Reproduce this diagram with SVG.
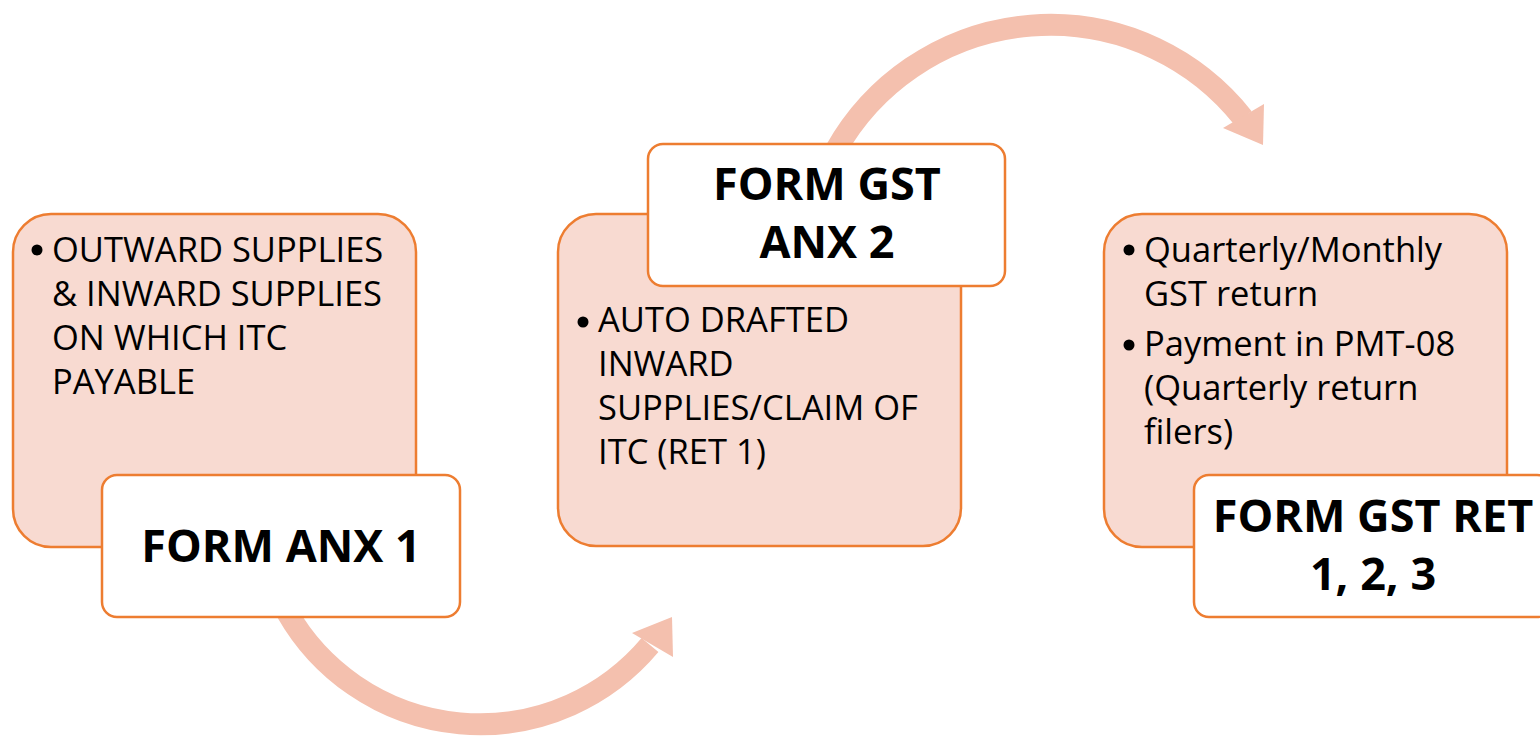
<svg xmlns="http://www.w3.org/2000/svg" width="1540" height="738" viewBox="0 0 1540 738">
<style>
.arc{fill:none;stroke:#F4C0AE;stroke-width:22}
.head{fill:#F4C0AE}
.pink{fill:#F8DAD1;stroke:#ED7D31;stroke-width:2.5}
.white{fill:#FFFFFF;stroke:#ED7D31;stroke-width:2.5}
.body{font-family:"Open Sans","Liberation Sans",sans-serif;font-size:34.5px;fill:#000}
.title{font-family:"Open Sans","Liberation Sans",sans-serif;font-size:45px;font-weight:bold;fill:#000;text-anchor:middle}
.dot{fill:#000}
</style>
<rect width="1540" height="738" fill="#FFFFFF"/>
<g id="connectors">
  <path class="arc" d="M 287 612 A 222 222 0 0 0 650 645"/>
  <polygon class="head" points="632,633 672,617 673,657"/>
  <path class="arc" d="M 836 150 A 246 246 0 0 1 1243 118"/>
  <polygon class="head" points="1223,128 1264,104 1263,145"/>
</g>
<g id="node-anx1">
  <rect class="pink" x="13" y="214" width="403" height="333" rx="38"/>
  <circle class="dot" cx="37" cy="250" r="5.5"/>
  <text class="body" x="52" y="262">OUTWARD SUPPLIES</text>
  <text class="body" x="52" y="306">&amp; INWARD SUPPLIES</text>
  <text class="body" x="52" y="350">ON WHICH ITC</text>
  <text class="body" x="52" y="394">PAYABLE</text>
  <rect class="white" x="102" y="475" width="358" height="142" rx="15"/>
  <text class="title" x="281" y="562">FORM ANX 1</text>
</g>
<g id="node-anx2">
  <rect class="pink" x="558" y="214" width="403" height="332" rx="38"/>
  <circle class="dot" cx="583" cy="322" r="5.5"/>
  <text class="body" x="598" y="332">AUTO DRAFTED</text>
  <text class="body" x="598" y="376">INWARD</text>
  <text class="body" x="598" y="420">SUPPLIES/CLAIM OF</text>
  <text class="body" x="598" y="464">ITC (RET 1)</text>
  <rect class="white" x="648" y="144" width="357" height="142" rx="15"/>
  <text class="title" x="827" y="200">FORM GST</text>
  <text class="title" x="827" y="258">ANX 2</text>
</g>
<g id="node-ret">
  <rect class="pink" x="1104" y="214" width="403" height="333" rx="38"/>
  <circle class="dot" cx="1129" cy="250" r="5.5"/>
  <text class="body" x="1144" y="262">Quarterly/Monthly</text>
  <text class="body" x="1144" y="306">GST return</text>
  <circle class="dot" cx="1129" cy="345" r="5.5"/>
  <text class="body" x="1144" y="356">Payment in PMT-08</text>
  <text class="body" x="1144" y="400">(Quarterly return</text>
  <text class="body" x="1144" y="444">filers)</text>
  <rect class="white" x="1194" y="475" width="358" height="142" rx="15"/>
  <text class="title" x="1373" y="532">FORM GST RET</text>
  <text class="title" x="1373" y="590">1, 2, 3</text>
</g>
</svg>
